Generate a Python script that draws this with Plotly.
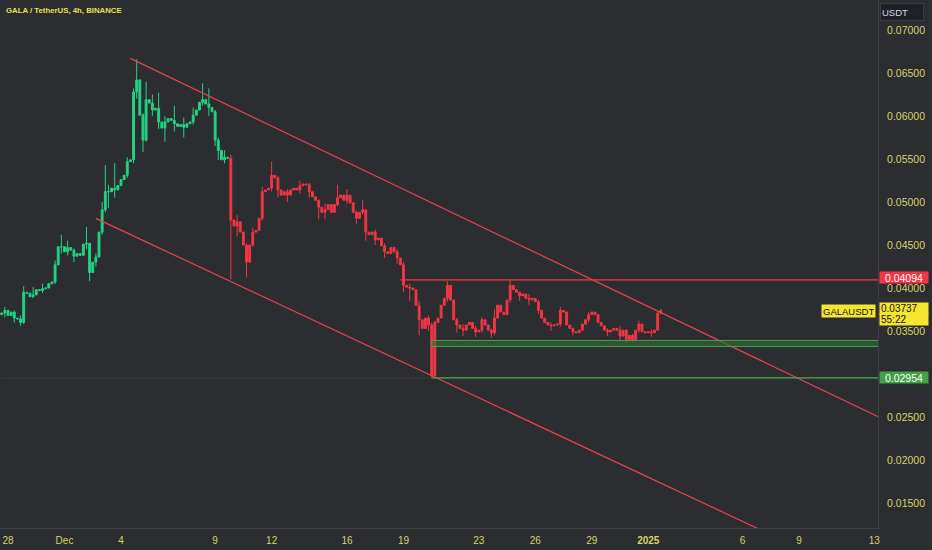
import pandas as pd
import plotly.graph_objects as go

# GALA/USDT 4h closes, first candle 2024-11-27 16:00
start_time = "2024-11-27 16:00"
first_open = 0.0369
closes = [
    0.0371, 0.0374, 0.0368, 0.0372, 0.0365, 0.0364,
    0.0360, 0.0395, 0.0394, 0.0390, 0.0392, 0.0398,
    0.0397, 0.0399, 0.0400, 0.0405, 0.0407, 0.0427,
    0.0448, 0.0448, 0.0442, 0.0447, 0.0444, 0.0437,
    0.0440, 0.0438, 0.0451, 0.0452, 0.0418, 0.0430,
    0.0436, 0.0465, 0.0491, 0.0512, 0.0512, 0.0516,
    0.0514, 0.0519, 0.0526, 0.0531, 0.0547, 0.0549,
    0.0628, 0.0642, 0.0601, 0.0572, 0.0619, 0.0615,
    0.0607, 0.0609, 0.0593, 0.0586, 0.0593, 0.0597,
    0.0595, 0.0591, 0.0588, 0.0590, 0.0587, 0.0591,
    0.0593, 0.0601, 0.0607, 0.0616, 0.0619, 0.0614,
    0.0610, 0.0605, 0.0572, 0.0560, 0.0549, 0.0552,
    0.0551, 0.0479, 0.0472, 0.0477, 0.0465, 0.0450,
    0.0430, 0.0450, 0.0465, 0.0467, 0.0481, 0.0512,
    0.0514, 0.0516, 0.0531, 0.0528, 0.0514, 0.0508,
    0.0512, 0.0508, 0.0514, 0.0516, 0.0514, 0.0519,
    0.0521, 0.0520, 0.0512, 0.0506, 0.0502, 0.0494,
    0.0488, 0.0491, 0.0497, 0.0488, 0.0497, 0.0505,
    0.0508, 0.0502, 0.0508, 0.0499, 0.0488, 0.0481,
    0.0488, 0.0491, 0.0465, 0.0462, 0.0465, 0.0456,
    0.0458, 0.0449, 0.0442, 0.0440, 0.0447, 0.0442,
    0.0435, 0.0427, 0.0403, 0.0401, 0.0400, 0.0398,
    0.0380, 0.0363, 0.0353, 0.0365, 0.0357, 0.0298,
    0.0360, 0.0365, 0.0380, 0.0388, 0.0403, 0.0386,
    0.0363, 0.0357, 0.0353, 0.0351, 0.0357, 0.0360,
    0.0353, 0.0349, 0.0351, 0.0363, 0.0357, 0.0351,
    0.0348, 0.0365, 0.0380, 0.0372, 0.0369, 0.0386,
    0.0403, 0.0398, 0.0395, 0.0391, 0.0393, 0.0388,
    0.0386, 0.0388, 0.0384, 0.0374, 0.0365, 0.0360,
    0.0357, 0.0356, 0.0357, 0.0358, 0.0374, 0.0372,
    0.0357, 0.0353, 0.0349, 0.0348, 0.0351, 0.0358,
    0.0363, 0.0369, 0.0372, 0.0369, 0.0360, 0.0356,
    0.0351, 0.0349, 0.0351, 0.0353, 0.0351, 0.0344,
    0.0351, 0.0340, 0.0345, 0.0340, 0.0351, 0.0358,
    0.0349, 0.0348, 0.0349, 0.0348, 0.0351, 0.0371,
    0.03737,
]

# candle index -> (high, low) where the wick is visible
wicks = {
    1: (0.0378, 0.0366), 4: (0.0374, 0.0360), 6: (0.0368, 0.0356),
    7: (0.0402, 0.0358), 10: (0.0401, 0.0388), 13: (0.0405, 0.0394),
    17: (0.0432, 0.0405), 19: (0.0462, 0.0440), 21: (0.0455, 0.0438),
    23: (0.0446, 0.0430), 27: (0.0471, 0.0445), 28: (0.0452, 0.0408),
    30: (0.0440, 0.0425), 32: (0.0500, 0.0462), 33: (0.0543, 0.0488),
    34: (0.0520, 0.0493), 36: (0.0545, 0.0505), 40: (0.0552, 0.0528),
    42: (0.0632, 0.0545), 43: (0.0666, 0.0620), 45: (0.0603, 0.0558),
    46: (0.0640, 0.0570), 48: (0.0625, 0.0600), 50: (0.0627, 0.0585),
    52: (0.0600, 0.0570), 55: (0.0612, 0.0582), 58: (0.0598, 0.0575),
    61: (0.0610, 0.0590), 64: (0.0638, 0.0612), 66: (0.0632, 0.0600),
    68: (0.0607, 0.0565), 69: (0.0575, 0.0549), 71: (0.0560, 0.0545),
    73: (0.0555, 0.0410), 75: (0.0485, 0.0460), 78: (0.0452, 0.0412),
    80: (0.0470, 0.0448), 83: (0.0518, 0.0478), 86: (0.0547, 0.0512),
    88: (0.0530, 0.0505), 91: (0.0515, 0.0500), 95: (0.0525, 0.0510),
    98: (0.0522, 0.0505), 101: (0.0502, 0.0480), 103: (0.0498, 0.0480),
    107: (0.0520, 0.0495), 110: (0.0515, 0.0498), 113: (0.0490, 0.0475),
    115: (0.0502, 0.0485), 116: (0.0491, 0.0455), 119: (0.0468, 0.0450),
    122: (0.0452, 0.0435), 126: (0.0445, 0.0428), 128: (0.0430, 0.0395),
    130: (0.0405, 0.0385), 133: (0.0385, 0.0345), 136: (0.0368, 0.0350),
    137: (0.0360, 0.02954), 138: (0.0362, 0.0298), 142: (0.0408, 0.0384),
    145: (0.0365, 0.0348), 147: (0.0358, 0.0344), 151: (0.0356, 0.0343),
    153: (0.0366, 0.0348), 156: (0.0353, 0.0342), 157: (0.0375, 0.0345),
    162: (0.0409, 0.0383), 165: (0.0396, 0.0385), 168: (0.0393, 0.0380),
    171: (0.0386, 0.0370), 175: (0.0360, 0.0350), 178: (0.0378, 0.0355),
    182: (0.0354, 0.0345), 187: (0.0372, 0.0360), 193: (0.0353, 0.0344),
    197: (0.0356, 0.0337), 199: (0.0352, 0.0336), 201: (0.0347, 0.0337),
    203: (0.0362, 0.0348), 207: (0.0352, 0.0343), 210: (0.0376, 0.0369),
}

bull_until = 72  # last bar painted green, after that the trend colour is red

# drawings
upper_line_x = ["2024-12-04 12:00", "2025-01-20 00:00"]
upper_line_y = [0.0667, 0.0179]
lower_line_x = ["2024-12-02 16:00", "2025-01-20 00:00"]
lower_line_y = [0.0481, -0.0015]
resistance = 0.04094
resistance_from = "2024-12-18 20:00"
support_zone = (0.0332, 0.0339)
support_low = 0.02954
support_from = "2024-12-20 12:00"
chart_end = "2025-01-20 00:00"
last_price = 0.03737
countdown = "55:22"

tick_dates = ["2024-11-28", "2024-12-01", "2024-12-04", "2024-12-09", "2024-12-12",
              "2024-12-16", "2024-12-19", "2024-12-23", "2024-12-26", "2024-12-29",
              "2025-01-01", "2025-01-06", "2025-01-09", "2025-01-13"]
tick_labels = ["28", "Dec", "4", "9", "12", "16", "19", "23", "26", "29",
               "<b>2025</b>", "6", "9", "13"]
price_ticks = [0.015, 0.020, 0.025, 0.035, 0.040, 0.045,
               0.050, 0.055, 0.060, 0.065, 0.070]

BG = "#2b2d31"
GREEN = "#22d384"
RED = "#f23645"
YEL = "#f5e531"
TXT = "#d6d46a"

times = pd.date_range(start_time, periods=len(closes), freq="4h")
opens = [first_open] + closes[:-1]
highs, lows = [], []
for i, (o, c) in enumerate(zip(opens, closes)):
    h, l = wicks.get(i, (max(o, c), min(o, c)))
    highs.append(max(h, o, c))
    lows.append(min(l, o, c))

fig = go.Figure()

for sl, col in [(slice(0, bull_until + 1), GREEN), (slice(bull_until + 1, None), RED)]:
    fig.add_trace(go.Candlestick(
        x=times[sl], open=opens[sl], high=highs[sl], low=lows[sl], close=closes[sl],
        increasing=dict(line=dict(color=col, width=1), fillcolor=col),
        decreasing=dict(line=dict(color=col, width=1), fillcolor=col),
        whiskerwidth=0, showlegend=False, hoverinfo="skip",
    ))

# channel lines
for xs, ys in [(upper_line_x, upper_line_y), (lower_line_x, lower_line_y)]:
    fig.add_trace(go.Scatter(x=xs, y=ys, mode="lines", line=dict(color="#e8434f", width=1.2),
                             showlegend=False, hoverinfo="skip"))

# horizontal levels
fig.add_shape(type="rect", x0=support_from, x1=chart_end, y0=support_zone[0], y1=support_zone[1],
              line=dict(color="#45a04b", width=1), fillcolor="rgba(50,110,56,0.6)", layer="above")
fig.add_trace(go.Scatter(x=[resistance_from, chart_end], y=[resistance] * 2, mode="lines",
                         line=dict(color=RED, width=1.2), showlegend=False, hoverinfo="skip"))
fig.add_trace(go.Scatter(x=[times[0], support_from], y=[support_low] * 2, mode="lines",
                         line=dict(color="#3a3d43", width=1), showlegend=False, hoverinfo="skip"))
fig.add_trace(go.Scatter(x=[support_from, chart_end], y=[support_low] * 2, mode="lines",
                         line=dict(color="#4caf50", width=1.2), showlegend=False, hoverinfo="skip"))

font = "Liberation Sans"


def price_tag(text, y, bg, color="white", yshift=0, size=10.5, align="center"):
    return dict(text=text, xref="paper", yref="y", x=1, y=y, xshift=1, yshift=yshift,
                xanchor="left", yanchor="middle", showarrow=False, width=46, height=9,
                align=align, borderpad=1, bgcolor=bg, font=dict(family=font, size=size, color=color))


anns = [
    dict(text="<b>GALA / TetherUS, 4h, BINANCE</b>", xref="paper", yref="paper", x=0.004, y=1,
         yshift=-4, xanchor="left", yanchor="top", showarrow=False,
         font=dict(family=font, size=7.8, color="#e6e05a")),
    dict(text="USDT", xref="paper", yref="paper", x=1, y=1, xshift=2, yshift=-3,
         xanchor="left", yanchor="top", showarrow=False, width=40, height=14, align="left",
         bgcolor="#1e2128", bordercolor="#3a3d44", borderwidth=1,
         font=dict(family=font, size=9.5, color="#d1d4dc")),
    price_tag(f"{resistance:.5f}", resistance, RED, yshift=2),
    price_tag(f"{support_low:.5f}", support_low, "#43a047"),
    price_tag(f"{last_price:.5f}", last_price, YEL, color="#131313", yshift=2, size=10, align="left"),
    price_tag(countdown, last_price, YEL, color="#131313", yshift=-9, size=10, align="left"),
    dict(text="GALAUSDT", xref="paper", yref="y", x=1, y=last_price, xshift=-2, yshift=-0.5,
         xanchor="right", yanchor="middle", showarrow=False, height=10, borderpad=1,
         bgcolor=YEL, font=dict(family=font, size=9.5, color="#131313")),
]

fig.update_layout(
    width=932, height=550,
    margin=dict(l=0, r=54, t=0, b=22),
    paper_bgcolor=BG, plot_bgcolor=BG,
    boxgap=0.15,
    annotations=anns,
    xaxis=dict(
        range=["2024-11-27 13:48", "2025-01-13 04:48"],
        rangeslider=dict(visible=False),
        showgrid=False, zeroline=False,
        showline=True, linecolor="#3d4046", linewidth=1,
        tickvals=tick_dates, ticktext=tick_labels, ticks="",
        ticklabelstandoff=3,
        tickfont=dict(family=font, size=10, color=TXT),
    ),
    yaxis=dict(
        side="right", range=[0.01209, 0.07349],
        showgrid=False, zeroline=False,
        showline=True, linecolor="#3d4046", linewidth=1,
        tickvals=price_ticks, tickformat=".5f", ticks="",
        ticklabelstandoff=6,
        tickfont=dict(family=font, size=10.5, color=TXT),
    ),
)

fig.write_html("out.html", config={"displayModeBar": False},
               post_script="document.body.style.margin='0';")
